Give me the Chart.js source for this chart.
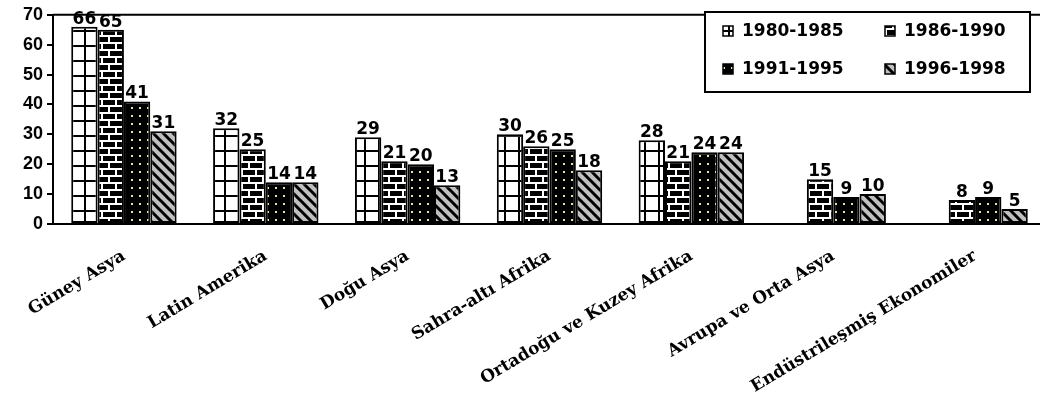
<!DOCTYPE html>
<html><head><meta charset="utf-8">
<script src="https://cdn.jsdelivr.net/npm/chart.js@4.4.0/dist/chart.umd.min.js"></script>
<style>html,body{margin:0;padding:0;background:#fff;overflow:hidden;width:1040px;height:407px}#wrap{width:1046px;height:407px;position:relative}</style>
</head><body><div id="wrap"><canvas id="c" width="1046" height="407"></canvas></div>
<script>
const categories = ['Güney Asya','Latin Amerika','Doğu Asya','Sahra-altı Afrika','Ortadoğu ve Kuzey Afrika','Avrupa ve Orta Asya','Endüstrileşmiş Ekonomiler'];
const seriesNames = ['1980-1985','1986-1990','1991-1995','1996-1998'];
const s1980 = [66,32,29,30,28,null,null];
const s1986 = [65,25,21,26,21,15,8];
const s1991 = [41,14,20,25,24,9,9];
const s1996 = [31,14,13,18,24,10,5];
const yTicks = [0,10,20,30,40,50,60,70];

function mk(w,h,draw){const c=document.createElement('canvas');c.width=w;c.height=h;const x=c.getContext('2d');draw(x,w,h);return document.getElementById('c').getContext('2d').createPattern(c,'repeat');}
const pGrid = mk(14,15,(x,w,h)=>{x.fillStyle='#fff';x.fillRect(0,0,w,h);x.fillStyle='#000';x.fillRect(0,0,2,h);x.fillRect(0,0,w,2);});
const pBrick = mk(14,14,(x,w,h)=>{x.fillStyle='#000';x.fillRect(0,0,w,h);x.fillStyle='#fff';x.fillRect(0,0,w,2);x.fillRect(0,7,w,2);x.fillRect(3,0,2,7);x.fillRect(10,7,2,7);});
const pDots = mk(8,8,(x,w,h)=>{x.fillStyle='#000';x.fillRect(0,0,w,h);x.fillStyle='#e6e6a8';x.fillRect(3,3,2,2);});
const pDiag = mk(10,10,(x,w,h)=>{x.fillStyle='#c0c0c0';x.fillRect(0,0,w,h);x.strokeStyle='#000';x.lineWidth=3;x.beginPath();x.moveTo(-5,-5);x.lineTo(15,15);x.moveTo(-15,-5);x.lineTo(5,15);x.moveTo(5,-5);x.lineTo(25,15);x.stroke();});
const patterns=[pGrid,pBrick,pDots,pDiag];
const seriesData=[s1980,s1986,s1991,s1996];

const labelPlugin={id:'vals',afterDatasetsDraw(chart){const ctx=chart.ctx;ctx.save();ctx.font='bold 17px "DejaVu Sans"';ctx.fillStyle='#000';ctx.textAlign='center';ctx.textBaseline='bottom';
chart.data.datasets.forEach((ds,i)=>{const meta=chart.getDatasetMeta(i);meta.data.forEach((b,j)=>{const v=ds.data[j];if(v==null)return;ctx.fillText(String(v),b.x,b.y+1);});});ctx.restore();}};
const framePlugin={id:'frame',afterDraw(chart){const ctx=chart.ctx,a=chart.chartArea;ctx.save();ctx.strokeStyle='#000';ctx.lineWidth=2;ctx.beginPath();ctx.moveTo(a.left,a.top);ctx.lineTo(a.right,a.top);ctx.stroke();
const bx=705,by=12,bw=325,bh=80;ctx.fillStyle='#fff';ctx.fillRect(bx,by,bw,bh);ctx.strokeRect(bx,by,bw,bh);
ctx.font='bold 17px "DejaVu Sans"';ctx.textBaseline='middle';ctx.textAlign='left';
const pos=[[723,31],[885,31],[723,69],[885,69]];
seriesNames.forEach((n,i)=>{const [x,y]=pos[i];ctx.fillStyle=patterns[i];ctx.fillRect(x,y-5,10,10);ctx.lineWidth=1.5;ctx.strokeRect(x,y-5,10,10);ctx.fillStyle='#000';ctx.fillText(n,x+19,y+1);});
ctx.restore();}};

new Chart(document.getElementById('c'),{type:'bar',
data:{labels:categories,datasets:seriesNames.map((n,i)=>({label:n,data:seriesData[i],backgroundColor:patterns[i],borderColor:'#000',borderWidth:2,borderSkipped:false,categoryPercentage:0.743,barPercentage:1}))},
options:{responsive:false,animation:false,devicePixelRatio:1,
layout:{padding:{top:14,right:0,left:0,bottom:0}},
plugins:{legend:{display:false},tooltip:{enabled:false}},
scales:{
x:{offset:true,grid:{display:false},border:{color:'#000',width:2},
ticks:{color:'#000',font:{family:'"DejaVu Serif"',weight:'bold',size:17},minRotation:31,maxRotation:31,padding:14,autoSkip:false},
afterFit(s){s.height=183;}},
y:{min:0,max:70,afterBuildTicks(s){s.ticks=yTicks.map(v=>({value:v}));},grid:{display:true,drawOnChartArea:false,tickLength:6,color:'#000',lineWidth:2},border:{color:'#000',width:2},
ticks:{color:'#000',font:{family:'"Liberation Sans"',weight:'bold',size:18},padding:4},
afterFit(s){s.width=53;}}
}},plugins:[labelPlugin,framePlugin]});
</script></body></html>
